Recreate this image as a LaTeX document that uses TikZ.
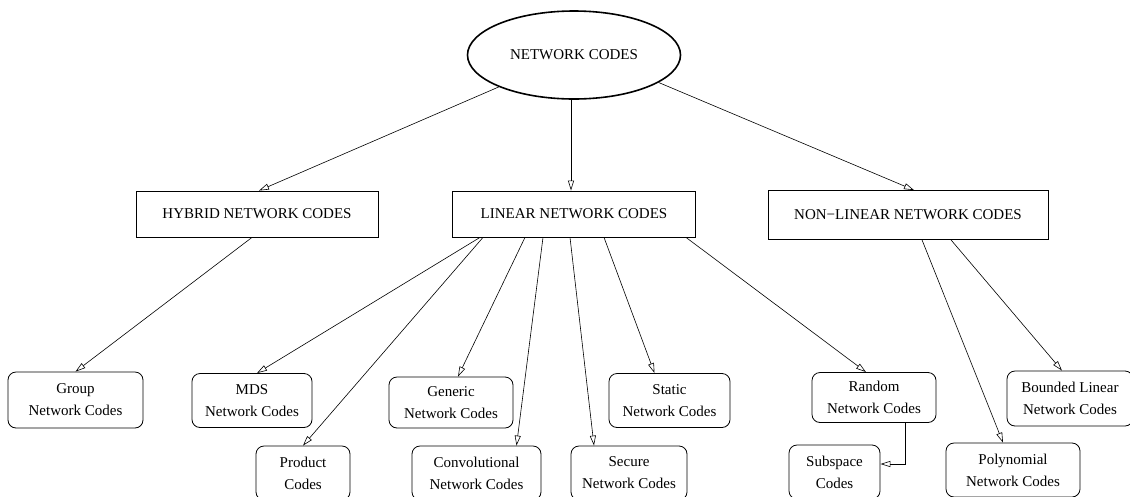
\documentclass[tikz,border=0pt]{standalone}
\usepackage{fontspec}
\setmainfont{Liberation Serif}
\usepackage{tikz}
\usetikzlibrary{shapes, arrows.meta, positioning}

\begin{document}
\begin{tikzpicture}[x=1pt, y=1pt,
    font=\fontsize{15}{22}\selectfont,
    root/.style={ellipse, draw, line width=1.6pt, minimum width=213pt, minimum height=88pt},
    family/.style={rectangle, draw, line width=0.8pt, minimum height=46pt},
    leaf/.style={rectangle, draw, rounded corners=8pt, line width=0.8pt, align=center, minimum height=54pt},
    link/.style={-{Triangle[open, length=10pt, width=6pt]}, line width=0.6pt}]

\useasboundingbox (0,0) rectangle (1130,-496);

% Nodes
\node [root] (codes) at (574,-55) {NETWORK CODES};
\node [family, minimum width=242pt, below of=codes, node distance=159pt, xshift=-317pt] (hybrid) {HYBRID NETWORK CODES};
\node [family, minimum width=243pt, below of=codes, node distance=159pt] (linear) {LINEAR NETWORK CODES};
\node [family, minimum width=280pt, minimum height=49pt, below of=codes, node distance=160pt, xshift=334pt] (nonlinear) {NON−LINEAR NETWORK CODES};

% Leaves
\node [leaf, minimum width=135pt, minimum height=56pt, below of=hybrid, node distance=186pt, xshift=-181.5pt] (group) {Group\\Network Codes};
\node [leaf, minimum width=120pt, below of=linear, node distance=186.5pt, xshift=-322pt] (mds) {MDS\\Network Codes};
\node [leaf, minimum width=94pt, below of=linear, node distance=259pt, xshift=-271pt] (product) {Product\\Codes};
\node [leaf, minimum width=124pt, minimum height=51pt, below of=linear, node distance=188.5pt, xshift=-123pt] (generic) {Generic\\Network Codes};
\node [leaf, minimum width=129pt, below of=linear, node distance=259pt, xshift=-97.5pt] (convolutional) {Convolutional\\Network Codes};
\node [leaf, minimum width=116pt, below of=linear, node distance=259pt, xshift=55pt] (secure) {Secure\\Network Codes};
\node [leaf, minimum width=121pt, below of=linear, node distance=186.5pt, xshift=95.5pt] (static) {Static\\Network Codes};
\node [leaf, minimum width=124pt, minimum height=50pt, below of=linear, node distance=183.5pt, xshift=300pt] (random) {Random\\Network Codes};
\node [leaf, minimum width=91pt, below of=random, node distance=74.5pt, xshift=-39.5pt] (subspace) {Subspace\\Codes};
\node [leaf, minimum width=134pt, below of=nonlinear, node distance=255pt, xshift=105pt] (polynomial) {Polynomial\\Network Codes};
\node [leaf, minimum width=126pt, minimum height=55pt, below of=nonlinear, node distance=183.5pt, xshift=162pt] (bounded) {Bounded Linear\\Network Codes};

% Arrows from the root
\draw[link] (codes.203) -- ([xshift=2pt]hybrid.north);
\draw[link] ([xshift=-3pt]codes.south) -- ([xshift=-3pt]linear.north);
\draw[link] (codes.342) -- ([xshift=6pt]nonlinear.north);

% Arrows to the leaves
\draw[link] ([xshift=-5pt]hybrid.south) -- (group.north);
\draw[link] ([xshift=-94pt]linear.south) -- ([xshift=5pt]mds.north);
\draw[link] ([xshift=-91pt]linear.south) -- (product.north);
\draw[link] ([xshift=-49pt]linear.south) -- ([xshift=7pt]generic.north);
\draw[link] ([xshift=-31pt]linear.south) -- ([xshift=40pt]convolutional.north);
\draw[link] ([xshift=-4pt]linear.south) -- ([xshift=-35pt]secure.north);
\draw[link] ([xshift=30pt]linear.south) -- ([xshift=-15pt]static.north);
\draw[link] ([xshift=112pt]linear.south) -- ([xshift=-8pt]random.north);
\draw[link] ([xshift=31pt]random.south) |- ([yshift=8pt]subspace.east);
\draw[link] ([xshift=14pt]nonlinear.south) -- ([xshift=-10pt]polynomial.north);
\draw[link] ([xshift=43pt]nonlinear.south) -- ([xshift=-8pt]bounded.north);

\end{tikzpicture}
\end{document}
